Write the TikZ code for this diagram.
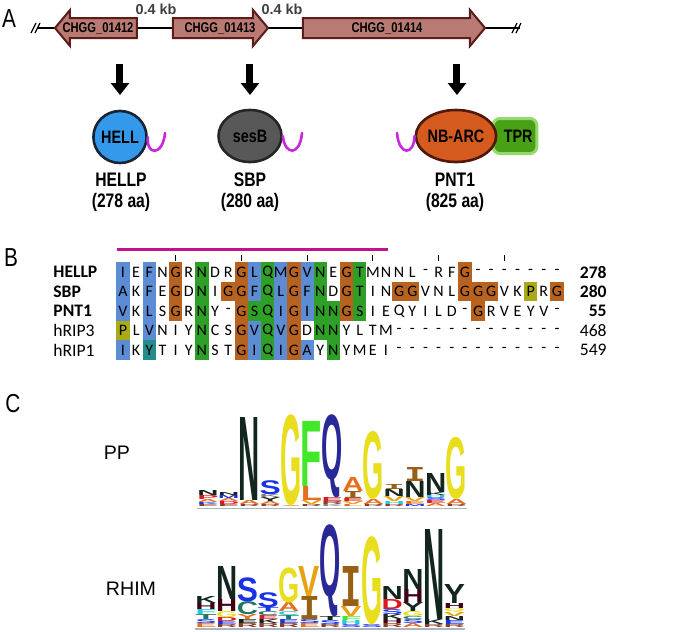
\documentclass[tikz,border=0pt]{standalone}
\usepackage{fontspec}
\setmainfont{Liberation Sans}
\setsansfont{Liberation Sans}
\newfontfamily\alnfont{Carlito}
\newfontfamily\serifI{Liberation Mono}
\usetikzlibrary{shapes.geometric,arrows.meta}

\definecolor{genefill}{RGB}{186,122,116}
\definecolor{geneedge}{RGB}{92,28,24}
\definecolor{kbgray}{RGB}{64,64,64}
\definecolor{hellblue}{RGB}{52,152,235}
\definecolor{helledge}{RGB}{24,36,52}
\definecolor{sesgray}{RGB}{88,88,88}
\definecolor{nbarcorange}{RGB}{212,90,30}
\definecolor{nbarcedge}{RGB}{80,24,8}
\definecolor{tprgreen}{RGB}{72,160,20}
\definecolor{tprrim}{RGB}{150,215,110}
\definecolor{tailpink}{RGB}{200,40,220}
\definecolor{barpink}{RGB}{192,20,140}
\definecolor{cblue}{RGB}{92,140,212}
\definecolor{cgreen}{RGB}{46,160,40}
\definecolor{cbrown}{RGB}{184,98,32}
\definecolor{colive}{RGB}{170,170,24}
\definecolor{cteal}{RGB}{36,140,140}
\definecolor{lN}{RGB}{18,38,30}
\definecolor{lQ}{RGB}{40,40,150}
\definecolor{lG}{RGB}{232,222,30}
\definecolor{lF}{RGB}{64,232,40}
\definecolor{lA}{RGB}{230,110,30}
\definecolor{lI}{RGB}{152,96,20}
\definecolor{lV}{RGB}{232,162,20}
\definecolor{lS}{RGB}{24,50,232}
\definecolor{lC}{RGB}{30,120,100}
\definecolor{lH}{RGB}{64,0,24}
\definecolor{lD}{RGB}{222,24,32}
\definecolor{lcy}{RGB}{40,200,220}
\definecolor{lbr}{RGB}{140,60,40}
\definecolor{axisgray}{RGB}{170,180,190}

\newcommand{\nrw}[1]{\scalebox{0.8}[1]{#1}}
\newcommand{\lgI}{{\serifI\bfseries I}}
\newcount\lgcount
% x, baseline, list h/colour/letter from the bottom up
\newcommand{\logostack}[3]{%
	\xdef\lgy{#2}%
	\foreach \h/\cl/\lt in {#3}{%
		\global\advance\lgcount by 1
		\pgfmathsetlengthmacro\lgh{\h*0.5pt}%
		\node[logo letter,text=\cl] (lg\the\lgcount) at (#1,\lgy) {\resizebox*{10.6pt}{\lgh}{\lt}};
		\pgfmathsetmacro\lgnext{\lgy-\h}%
		\xdef\lgy{\lgnext}%
	}%
}

\begin{document}
\begin{tikzpicture}[x=0.5pt,y=-0.5pt,
	gene/.style={fill=genefill,draw=geneedge,line width=1pt},
	genelbl/.style={font=\fontsize{7}{8}\selectfont\bfseries,inner sep=0},
	kb/.style={font=\fontsize{7.2}{8}\selectfont\bfseries,text=kbgray,inner sep=0},
	panel/.style={font=\fontsize{13}{14}\selectfont,inner sep=0},
	down/.style={line width=3.5pt,-{Triangle[width=9pt,length=6pt]}},
	dom/.style={ellipse,line width=1.3pt,inner sep=0,font=\fontsize{9}{10}\selectfont\bfseries},
	tail/.style={draw=tailpink,line width=1.3pt,line cap=round},
	prot/.style={font=\fontsize{9.8}{11}\selectfont\bfseries,inner sep=0},
	seqname/.style={anchor=west,inner sep=0,font=\alnfont\fontsize{8.8}{9}\selectfont},
	seqlen/.style={anchor=east,inner sep=0,font=\alnfont\fontsize{8.8}{9}\selectfont},
	res/.style={inner sep=0,font=\alnfont\fontsize{8}{9}\selectfont},
	logo letter/.style={inner sep=0,anchor=south,font=\sffamily\bfseries},
	logoname/.style={inner sep=0,font=\fontsize{9.8}{11}\selectfont}]
\useasboundingbox[fill=white] (0,0) rectangle (677,632);

% A: gene cluster
\node[panel] (pa) at (9,19) {\nrw{A}};
\draw[line width=0.7pt] (38,28) -- (520,28);
\draw[line width=0.6pt] (31,33) -- (36,23) (35,33) -- (40,23);
\draw[line width=0.6pt] (512,33) -- (517,23) (516,33) -- (521,23);
\draw[gene] (55,28) -- (70,10) -- (70,18) -- (137,18) -- (137,38) -- (70,38) -- (70,46) -- cycle;
\draw[gene] (173,18) -- (253,18) -- (253,10) -- (268,28) -- (253,46) -- (253,38) -- (173,38) -- cycle;
\draw[gene] (303,18) -- (470,18) -- (470,10) -- (485,28) -- (470,46) -- (470,38) -- (303,38) -- cycle;
\node[genelbl] (g1) at (98,28) {\nrw{CHGG\_01412}};
\node[genelbl] (g2) at (220,28) {\nrw{CHGG\_01413}};
\node[genelbl] (g3) at (387,28) {\nrw{CHGG\_01414}};
\node[kb] (kb1) at (156,9) {0.4 kb};
\node[kb] (kb2) at (282,9) {0.4 kb};

% proteins
\node[dom,fill=hellblue,draw=helledge,minimum width=24pt,minimum height=26pt] (hell) at (120,137) {\nrw{HELL}};
\node[dom,fill=sesgray,draw=black!85,minimum width=31.5pt,minimum height=26pt] (sesb) at (250,136) {\nrw{sesB}};
\node[rounded corners=3.5pt,fill=tprgreen,draw=tprrim,line width=1.5pt,minimum width=22pt,minimum height=17.5pt,
	inner sep=0,font=\fontsize{9}{10}\selectfont\bfseries] (tpr) at (515,136) {\nrw{\hspace{4pt}TPR}};
\node[dom,fill=nbarcorange,draw=nbarcedge,minimum width=39pt,minimum height=26pt] (nbarc) at (456,136) {\nrw{NB-ARC}};
\draw[tail] (hell.east) .. controls (146,156) and (163,156) .. (165,133);
\draw[tail] (sesb.east) .. controls (285,156) and (300,156) .. (302,133);
\draw[tail] (397,133) .. controls (399,156) and (414,156) .. (nbarc.west);
\coordinate (d1) at (120,64); \coordinate (d2) at (250,64); \coordinate (d3) at (457,64);
\draw[down] (d1) -- (hell.north |- 0,95);
\draw[down] (d2) -- (sesb.north |- 0,95);
\draw[down] (d3) -- (457,95);
\node[prot] (p1) at (121,180) {\nrw{HELLP}};
\node[prot] (p1n) at (121,202) {\nrw{(278 aa)}};
\node[prot] (p2) at (250,180) {\nrw{SBP}};
\node[prot] (p2n) at (250,202) {\nrw{(280 aa)}};
\node[prot] (p3) at (455,180) {\nrw{PNT1}};
\node[prot] (p3n) at (455,202) {\nrw{(825 aa)}};

% B: alignment
\node[panel] (pb) at (11,258) {\nrw{B}};
\draw[barpink,line width=1.5pt] (117,249.5) -- (388,249.5);
\foreach \c in {5,10,...,30}
	\draw[line width=0.5pt] ({123+13.15*(\c-1)},255) -- ++(0,6);
\foreach \c/\r in {1/1,1/2,1/3,1/5,3/1,3/2,3/3,3/4,11/1,11/2,11/4,11/5,13/1,13/2,13/3,13/4,13/5,15/1,15/2,15/3,15/5}
	\fill[cblue] ({123+13.15*(\c-1)-6.7},{272+19.5*(\r-1)-9.9}) rectangle +(13.4,19.8);
\foreach \c/\r in {7/1,7/2,7/3,7/4,7/5,11/3,12/1,12/2,12/3,12/4,12/5,16/1,16/2,16/3,16/4,17/3,17/4,17/5,19/1,19/2,19/3}
	\fill[cgreen] ({123+13.15*(\c-1)-6.7},{272+19.5*(\r-1)-9.9}) rectangle +(13.4,19.8);
\foreach \c/\r in {5/1,5/2,5/3,9/2,10/1,10/2,10/3,10/4,10/5,14/1,14/2,14/3,14/4,14/5,18/1,18/2,18/3,22/2,23/2,27/1,27/2,28/2,28/3,29/2,34/2}
	\fill[cbrown] ({123+13.15*(\c-1)-6.7},{272+19.5*(\r-1)-9.9}) rectangle +(13.4,19.8);
\foreach \c/\r in {1/4,32/2}
	\fill[colive] ({123+13.15*(\c-1)-6.7},{272+19.5*(\r-1)-9.9}) rectangle +(13.4,19.8);
\fill[cteal] ({123+13.15*2-6.7},{272+19.5*4-9.9}) rectangle +(13.4,19.8);
\foreach \r/\seq in {%
	1/{I,E,F,N,G,R,N,D,R,G,L,Q,M,G,V,N,E,G,T,M,N,N,L,-,R,F,G,-,-,-,-,-,-,-},
	2/{A,K,F,E,G,D,N,I,G,G,F,Q,L,G,F,N,D,G,T,I,N,G,G,V,N,L,G,G,G,V,K,P,R,G},
	3/{V,K,L,S,G,R,N,Y,-,G,S,Q,I,G,I,N,N,G,S,I,E,Q,Y,I,L,D,-,G,R,V,E,Y,V,-},
	4/{P,L,V,N,I,Y,N,C,S,G,V,Q,V,G,D,N,N,Y,L,T,M,-,-,-,-,-,-,-,-,-,-,-,-,-},
	5/{I,K,Y,T,I,Y,N,S,T,G,I,Q,I,G,A,Y,N,Y,M,E,I,-,-,-,-,-,-,-,-,-,-,-,-,-}}
	\foreach \s [count=\c] in \seq
		\node[res] (r\r-\c) at ({123+13.15*(\c-1)},{272+19.5*(\r-1)}) {\s};
\node[seqname] (n1) at (53,272) {\bfseries HELLP};
\node[seqname] (n2) at (53,291.5) {\bfseries SBP};
\node[seqname] (n3) at (53,311) {\bfseries PNT1};
\node[seqname] (n4) at (53,330.5) {hRIP3};
\node[seqname] (n5) at (53,350) {hRIP1};
\node[seqlen] (l1) at (607,272) {\bfseries 278};
\node[seqlen] (l2) at (607,291.5) {\bfseries 280};
\node[seqlen] (l3) at (607,311) {\bfseries 55};
\node[seqlen] (l4) at (607,330.5) {468};
\node[seqlen] (l5) at (607,350) {549};

% C: logos
\node[panel] (pc) at (13,404) {\nrw{C}};
\node[logoname] (pp) at (117,453) {PP};
\node[logoname] (rhim) at (131,589) {RHIM};
\draw[axisgray,line width=0.6pt] (197,508.5) -- (467,508.5);
\draw[axisgray,line width=0.6pt] (195,629) -- (465,629);
\logostack{208}{507}{2/lbr/E,2/lS/K,3/lA/A,4/lD/P,5/lN/N}
\logostack{228.7}{507}{2/lbr/E,3/lD/D,3/lA/A,3/lS/M,3/lN/N}
\logostack{249.4}{507}{2/lbr/R,4/lA/A,83/lN/N}
\logostack{270.1}{507}{2/lbr/R,3/lA/A,4/lN/Y,3/gray/K,14/lS/S}
\logostack{290.8}{507}{1/lA/A,91/lG/G}
\logostack{311.5}{507}{2/lbr/R,4/lV/V,14/lA/L,65/lF/F}
\logostack{332.2}{507}{2/gray/K,3/lbr/R,4/lD/E,83/lQ/Q}
\logostack{352.9}{507}{2/lA/L,3/lV/V,3/lD/E,7/lI/\lgI,14/lA/A}
\logostack{373.6}{507}{2/lbr/R,5/lA/A,68/lG/G}
\logostack{394.3}{507}{2/lbr/R,3/lcy/H,5/lV/V,7/lN/N,5/lI/\lgI}
\logostack{415}{507}{2/lS/M,3/lA/E,4/lV/V,16/lN/N,14/lI/\lgI}
\logostack{435.7}{507}{3/lA/A,3/lD/E,3/lS/S,2/lcy/H,3/lN/K,19/lN/N}
\logostack{456.4}{507}{2/lbr/R,5/lA/A,62/lG/G}
\logostack{206}{628}{4/lA/E,4/lS/S,5/lC/T,5/lcy/F,6/lH/H,7/lN/K}
\logostack{226.7}{628}{3/lbr/R,3/lS/E,4/lD/D,6/lG/G,12/lH/H,33/lN/N}
\logostack{247.4}{628}{4/lbr/R,4/lN/E,5/lA/Y,13/lC/C,24/lS/S}
\logostack{268.1}{628}{4/lbr/R,4/lN/K,4/lD/E,4/lC/C,4/lS/T,15/lS/S}
\logostack{288.8}{628}{4/lbr/R,4/lS/E,4/lC/T,4/lcy/C,9/lA/A,35/lG/G}
\logostack{309.5}{628}{4/lA/E,4/lS/S,23/lI/\lgI,30/lV/V}
\logostack{330.2}{628}{3/lbr/R,4/lS/S,4/lN/T,92/lQ/Q}
\logostack{350.9}{628}{3/lS/S,4/lcy/H,4/lF/F,10/lV/V,40/lI/\lgI}
\logostack{371.6}{628}{3/lS/S,88/lG/G}
\logostack{392.3}{628}{4/lbr/R,4/lH/H,5/lN/K,5/lS/S,10/lD/D,13/lN/N}
\logostack{413}{628}{4/lA/A,4/lS/S,3/lC/C,5/lG/G,9/lN/Y,13/lH/H,20/lN/N}
\logostack{433.7}{628}{3/lbr/R,5/lN/K,90/lN/N}
\logostack{454.4}{628}{3/lbr/R,4/lS/E,4/lN/N,4/lV/V,4/lG/Q,5/lH/H,19/lN/Y}
\end{tikzpicture}
\end{document}
